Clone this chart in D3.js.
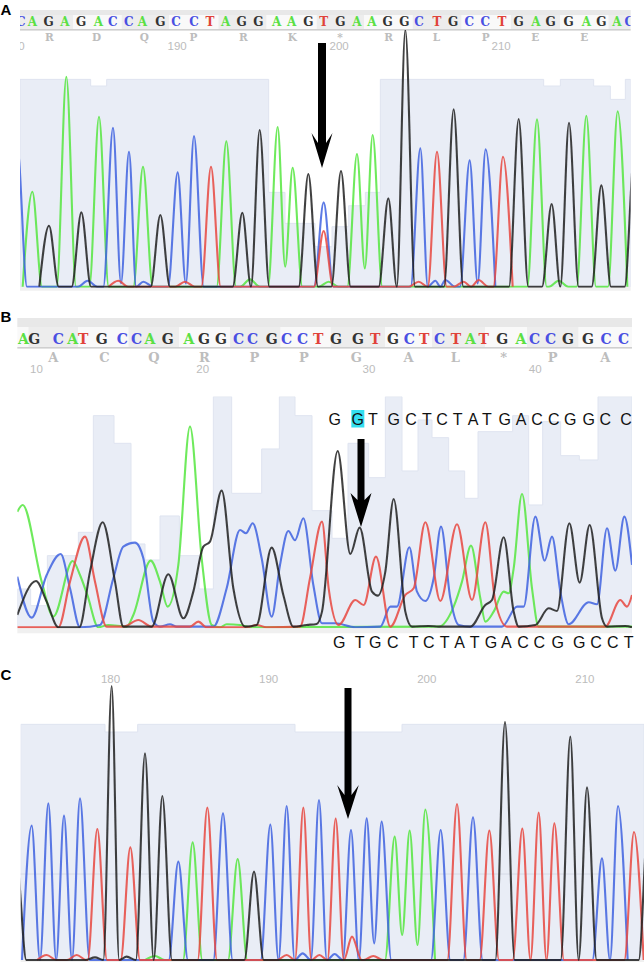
<!DOCTYPE html>
<html>
<head>
<meta charset="utf-8">
<script src="https://cdn.jsdelivr.net/npm/d3@7"></script>
<style>
html, body { margin: 0; padding: 0; background: #fff; }
svg { display: block; }
.trace { fill: none; stroke-width: 2.1; stroke-linejoin: round; stroke-opacity: 0.85; }
.call { font-family: "DejaVu Serif", serif; font-weight: bold; text-anchor: middle; }
.amino { font-family: "DejaVu Serif", serif; font-weight: bold; fill: #bdbdbd; text-anchor: middle; }
.ticks text { font-family: "Liberation Sans", sans-serif; font-size: 11.5px; fill: #bcbcbc; }
.ticks path { display: none; }
.plain { font-family: "Liberation Sans", sans-serif; font-size: 16px; fill: #111; text-anchor: middle; }
.tag { font-family: "Liberation Sans", sans-serif; font-weight: bold; font-size: 15px; fill: #000; }
</style>
</head>
<body>
<svg id="chart" width="644" height="962"></svg>
<script>
// scan positions run 0-1932 over the page width, signal is in the same units
var traceColor = { A: "#55e63f", C: "#3f63e0", G: "#222222", T: "#e8483f" };
var callColor = { A: "#5be044", C: "#4a50e2", G: "#333333", T: "#e0433a" };

// panel A: peaks as [scan, height, valley to next peak]
var peaksA_G = [[147,183],[244,223],[481,215],[727,222],[779,470],[925,338],[1023,347],[1165,265],[1216,770],[1361,532],[1556,503],[1655,248],[1707,492],[1804,304],[1903,400]];
var peaksA_A = [[97,285],[199,630],[297,510],[429,360],[679,436],[750,22],[833,479,60],[878,357],[986,15],[1071,398,55],[1118,455],[1611,502],[1676,18],[1759,513],[1853,526]];
var peaksA_C = [[52,420],[263,18],[339,477,10],[387,405],[430,15],[533,343,10],[582,452],[971,253],[1261,415],[1306,18],[1336,20],[1409,379,10],[1457,412]];
var peaksA_T = [[355,18],[555,15],[633,360],[971,167],[1256,15],[1311,405],[1391,15],[1436,20],[1509,390]];
var qualA = [[60,622],[272,602],[320,622],[806,283],[855,190],[945,120],[996,180],[1046,243],[1096,283],[1141,622],[1631,602],[1681,622],[1781,602],[1831,562],[1876,622],[1892,622]];
var callsA = "CAGAGACCAGCCTAGGAAGTGAAGGCTGCCTGAGGAGAC";
var callScanA = [62,97,146,195,243,295,338,386,427,481,528,582,630,677,725,775,830,875,925,971,1021,1071,1116,1163,1213,1257,1311,1359,1408,1456,1506,1556,1608,1652,1706,1759,1804,1851,1888];
var aminoA = "RDQPRK*RLPEE";
var aminoScanA = [148,290,433,580,730,877,1020,1166,1309,1457,1606,1753];
var codonA = [60,220,365,507,655,800,950,1092,1238,1385,1533,1680,1825,1892];
var ticksA = [180,190,200,210];

// panel B: overlapping peaks, traced as [scan, signal] points
var traceB_A = [[52,347],[68,367],[125,137],[160,32],[218,199],[240,157],[262,97],[295,0],[325,7],[380,2],[400,37],[452,200],[480,137],[503,62],[535,187],[570,602],[605,207],[635,7],[660,0],[680,9],[720,7],[750,0],[1316,2],[1361,62],[1386,137],[1413,245],[1441,87],[1456,17],[1481,47],[1511,107],[1526,102],[1541,177],[1566,400],[1596,117],[1616,2],[1896,2]];
var traceB_C = [[52,152],[95,29],[140,157],[182,220],[210,117],[240,0],[300,7],[340,147],[370,242],[405,254],[430,207],[460,17],[480,2],[510,9],[530,2],[640,2],[680,117],[720,292],[738,282],[758,312],[785,207],[815,32],[840,187],[865,289],[885,261],[910,327],[940,127],[966,12],[1006,12],[1066,0],[1141,2],[1171,62],[1191,62],[1228,240],[1251,107],[1276,79],[1301,147],[1323,302],[1351,87],[1376,7],[1411,2],[1506,2],[1551,62],[1571,62],[1606,332],[1634,200],[1656,272],[1681,107],[1706,9],[1766,75],[1791,69],[1821,297],[1846,170],[1873,332],[1896,187]];
var traceB_T = [[52,0],[175,0],[210,137],[255,272],[285,137],[320,2],[370,2],[415,22],[455,2],[570,2],[595,17],[620,0],[740,0],[770,7],[800,0],[900,2],[930,147],[966,317],[986,117],[1016,7],[1066,82],[1091,67],[1128,212],[1171,2],[1216,97],[1241,117],[1276,315],[1321,79],[1371,309],[1416,82],[1456,315],[1486,77],[1521,2],[1816,2],[1861,82],[1881,62],[1896,97]];
var traceB_G = [[52,37],[108,139],[140,77],[175,0],[238,0],[270,167],[308,315],[345,137],[370,2],[455,2],[505,159],[550,27],[580,107],[610,242],[630,257],[665,410],[700,117],[735,2],[770,7],[815,239],[850,97],[880,2],[920,7],[950,10],[966,47],[1013,529],[1051,220],[1079,299],[1116,107],[1134,95],[1156,167],[1181,385],[1216,47],[1236,2],[1286,4],[1316,2],[1411,2],[1456,67],[1476,82],[1511,270],[1541,47],[1556,2],[1606,7],[1646,57],[1671,49],[1708,312],[1739,134],[1769,307],[1806,27],[1821,2],[1876,4],[1896,0]];
var qualB = [[52,115],[92,65],[142,215],[235,285],[280,635],[342,552],[393,250],[435,202],[480,334],[538,215],[597,115],[640,692],[695,402],[785,535],[838,692],[885,635],[936,350],[996,267],[1044,552],[1106,449],[1156,692],[1206,469],[1254,622],[1296,569],[1346,469],[1394,387],[1434,587],[1538,635],[1586,367],[1628,617],[1682,515],[1738,502],[1794,692],[1896,692]];
var callsB = "AGCATGCCAGAGGCCGCCTGGTGCTCTATGACCGGCC";
var callScanB = [70,103,175,218,250,305,367,410,450,503,567,612,663,716,758,815,860,908,955,1008,1074,1126,1179,1228,1273,1319,1368,1411,1451,1507,1563,1604,1652,1704,1764,1818,1871];
var aminoB = "ACQRPPGAL*PA";
var aminoScanB = [160,313,462,613,763,912,1069,1226,1366,1511,1658,1816];
var codonB = [52,85,235,385,538,690,842,992,1156,1296,1456,1581,1736,1896];
var ticksB = [10,20,30,40];
var readTop = "GGTGCTCTATGACCGGCC";
var readTopScan = [1004,1073,1119,1181,1233,1281,1326,1373,1419,1461,1514,1563,1611,1661,1711,1766,1816,1878];
var readBottom = "GTGCTCTATGACCGGCCT";
var readBottomScan = [1018,1079,1126,1178,1241,1286,1334,1379,1424,1473,1519,1569,1618,1673,1738,1788,1838,1886];

// panel C
var peaksC_G = [[50,290],[285,8],[335,822],[380,10],[435,620],[487,492],[762,265],[1515,714],[1711,670],[1761,518],[1945,420]];
var peaksC_C = [[95,403],[145,470],[192,433],[240,485],[535,295],[669,440],[811,406],[860,462],[908,20],[957,480],[1004,18],[1053,390],[1100,425,50],[1145,415],[1322,390],[1419,428],[1806,305],[1854,462]];
var peaksC_T = [[140,15],[230,15],[292,393],[391,338],[622,457],[860,15],[910,457],[958,15],[1007,424],[1056,70],[1120,12],[1371,468],[1468,388],[1567,394],[1616,442],[1663,410],[1902,384]];
var peaksC_A = [[465,12],[578,353],[713,303],[1184,370,75],[1229,388,45],[1276,451]];
var qualC = [[62,707],[315,684],[413,707],[885,684],[1206,707],[1932,707]];
var ticksC = [180,190,200,210];

var svg = d3.select("#chart");
var x = d3.scaleLinear().domain([0, 1932]).range([0, 644]);

// slight softness, the source is a scaled screenshot
svg.append("filter").attr("id", "soft").append("feGaussianBlur").attr("stdDeviation", 0.3);

// peak list -> points for the monotone curve
function anchors(peaks, halfBase) {
	var pts = [];
	peaks.forEach(function(p, i) {
		var prev = peaks[i - 1], next = peaks[i + 1];
		if(!prev || p[0] - prev[0] >= 2 * halfBase)
			pts.push([p[0] - halfBase, 0]);
		pts.push([p[0], p[1]]);
		if(next && next[0] - p[0] < 2 * halfBase)
			pts.push([(p[0] + next[0]) / 2, p[2] || 0]);
		else
			pts.push([p[0] + halfBase, 0]);
	});
	return pts;
}

function drawPanel(o) {
	var y = d3.scaleLinear().domain([0, 100]).range([o.base, o.base - 100 / 3]);
	var g = svg.append("g");
	var clipId = "clip" + o.name;

	svg.append("clipPath").attr("id", clipId).append("rect")
		.attr("x", x(o.left)).attr("width", x(o.right) - x(o.left))
		.attr("y", o.clipTop).attr("height", o.base - o.clipTop + 1);

	// quality bars behind the traces
	g.append("path").datum(o.qual)
		.attr("d", d3.area().curve(d3.curveStepAfter)
			.x(function(d) { return x(d[0]); }).y0(y(0)).y1(function(d) { return y(d[1]); }))
		.attr("fill", "#e9edf6").attr("stroke", "#dfe4f0").attr("stroke-width", 1)
		.attr("clip-path", "url(#" + clipId + ")");

	if(o.midline)
		g.append("line").attr("x1", x(o.left)).attr("x2", x(o.right))
			.attr("y1", y(o.midline)).attr("y2", y(o.midline)).attr("stroke", "#d6dae6");

	// grey band under the baseline
	g.append("rect").attr("x", x(o.left)).attr("width", x(o.right) - x(o.left))
		.attr("y", o.base).attr("height", o.bandH).attr("fill", "#f0f0f0");

	var line = d3.line().curve(d3.curveMonotoneX)
		.x(function(d) { return x(d[0]); }).y(function(d) { return y(d[1]); });

	var tr = g.append("g").attr("clip-path", "url(#" + clipId + ")");
	tr.selectAll("path").data(o.traces).enter().append("path")
		.attr("class", "trace")
		.attr("filter", "url(#soft)")
		.attr("stroke", function(d) { return traceColor[d.base]; })
		.attr("d", function(d) { return line(d.pts); });
}

function drawStrip(o) {
	var g = svg.append("g");
	var w = x(o.right) - x(o.left);
	g.append("rect").attr("x", x(o.left)).attr("y", o.top).attr("width", w).attr("height", o.rowY - o.top).attr("fill", "#e8e8e8");
	g.selectAll(".codon").data(d3.pairs(o.codon)).enter().append("rect")
		.attr("x", function(d) { return x(d[0]); })
		.attr("width", function(d) { return x(d[1]) - x(d[0]); })
		.attr("y", o.rowY).attr("height", o.rowH)
		.attr("fill", function(d, i) { return (i + o.shadeFrom) % 2 ? "#f9f9f9" : "#ededed"; });
	g.append("rect").attr("x", x(o.left)).attr("y", o.rowY + o.rowH).attr("width", w).attr("height", 1.6).attr("fill", "#cfcfcf");

	var clipId = "strip" + o.name;
	svg.append("clipPath").attr("id", clipId).append("rect")
		.attr("x", x(o.left)).attr("width", w).attr("y", o.top).attr("height", 60);
	var t = g.append("g").attr("clip-path", "url(#" + clipId + ")");
	t.selectAll(".call").data(o.calls.split("")).enter().append("text")
		.attr("class", "call")
		.attr("x", function(d, i) { return x(o.callScan[i]); })
		.attr("y", o.rowY + o.rowH - 3)
		.style("font-size", o.callSize + "px")
		.attr("fill", function(d) { return callColor[d]; })
		.text(function(d) { return d; });
	t.selectAll(".amino").data(o.amino.split("")).enter().append("text")
		.attr("class", "amino")
		.attr("x", function(d, i) { return x(o.aminoScan[i]); })
		.attr("y", o.aminoY)
		.style("font-size", o.aminoSize + "px")
		.text(function(d) { return d; });
}

function drawTicks(o) {
	var pos = d3.scaleLinear().domain(o.domain).range(o.scan.map(x));
	var clipId = "tick" + o.name;
	// clip lives inside the translated group
	svg.append("clipPath").attr("id", clipId).append("rect")
		.attr("x", x(o.left)).attr("y", -2).attr("width", x(o.right) - x(o.left)).attr("height", 16);
	svg.append("g").attr("class", "ticks")
		.attr("clip-path", "url(#" + clipId + ")")
		.attr("transform", "translate(0," + o.y + ")")
		.call(d3.axisBottom(pos).tickValues(o.values).tickSize(0).tickPadding(0).tickFormat(d3.format("d")))
		.call(function(a) { a.selectAll("line").remove(); });
}

function arrow(cx, top, wingY, wing, notchY, tipY, half) {
	var p = d3.path();
	p.moveTo(cx - half, top);
	p.lineTo(cx + half, top);
	p.lineTo(cx + half, notchY);
	p.lineTo(cx + wing, wingY);
	p.lineTo(cx, tipY);
	p.lineTo(cx - wing, wingY);
	p.lineTo(cx - half, notchY);
	p.closePath();
	svg.append("path").attr("d", p.toString()).attr("fill", "#000");
}

function tag(label, y) {
	svg.append("text").attr("class", "tag").attr("x", 0.5).attr("y", y).text(label);
}

// panel A
drawStrip({ name: "A", left: 60, right: 1892, top: 10, rowY: 15, rowH: 14, codon: codonA, shadeFrom: 0,
	calls: callsA, callScan: callScanA, callSize: 12, amino: aminoA, aminoScan: aminoScanA, aminoY: 41, aminoSize: 10.5 });
drawTicks({ name: "A", left: 60, right: 1892, y: 42, domain: [180, 210], scan: [44, 1502], values: ticksA });
drawPanel({ name: "A", base: 286.7, left: 60, right: 1892, clipTop: 30, bandH: 4, qual: qualA, traces: [
	{ base: "A", pts: anchors(peaksA_A, 29) },
	{ base: "C", pts: anchors(peaksA_C, 29) },
	{ base: "T", pts: anchors(peaksA_T, 29) },
	{ base: "G", pts: anchors(peaksA_G, 29) }
] });
arrow(322, 43, 133, 10.5, 143, 168, 4);

// panel B
drawStrip({ name: "B", left: 52, right: 1896, top: 318, rowY: 327, rowH: 20, codon: codonB, shadeFrom: 1,
	calls: callsB, callScan: callScanB, callSize: 14, amino: aminoB, aminoScan: aminoScanB, aminoY: 362, aminoSize: 13 });
drawTicks({ name: "B", left: 52, right: 1896, y: 365, domain: [10, 40], scan: [108, 1604], values: ticksB });
drawPanel({ name: "B", base: 627.3, left: 52, right: 1896, clipTop: 396.6, bandH: 6, qual: qualB, traces: [
	{ base: "A", pts: traceB_A },
	{ base: "C", pts: traceB_C },
	{ base: "T", pts: traceB_T },
	{ base: "G", pts: traceB_G }
] });
svg.append("rect").attr("x", x(1054)).attr("y", 410).attr("width", 13).attr("height", 17.5).attr("fill", "#33dff0");
svg.selectAll(".readT").data(readTop.split("")).enter().append("text")
	.attr("class", "plain readT")
	.attr("x", function(d, i) { return x(readTopScan[i]); })
	.attr("y", 425)
	.text(function(d) { return d; });
svg.selectAll(".readB").data(readBottom.split("")).enter().append("text")
	.attr("class", "plain readB")
	.attr("x", function(d, i) { return x(readBottomScan[i]); })
	.attr("y", 648)
	.text(function(d) { return d; });
arrow(361, 439, 493, 10.5, 500, 527, 3.5);

// panel C
drawTicks({ name: "C", left: 62, right: 1932, y: 675, domain: [180, 210], scan: [330, 1753], values: ticksC });
drawPanel({ name: "C", base: 960, left: 62, right: 1932, clipTop: 680, bandH: 2, qual: qualC, midline: 258, traces: [
	{ base: "A", pts: anchors(peaksC_A, 29) },
	{ base: "C", pts: anchors(peaksC_C, 29) },
	{ base: "T", pts: anchors(peaksC_T, 29) },
	{ base: "G", pts: anchors(peaksC_G, 29) }
] });
arrow(348, 688, 785, 10.8, 795, 819, 3.5);

tag("A", 15);
tag("B", 322);
tag("C", 680);
</script>
</body>
</html>
